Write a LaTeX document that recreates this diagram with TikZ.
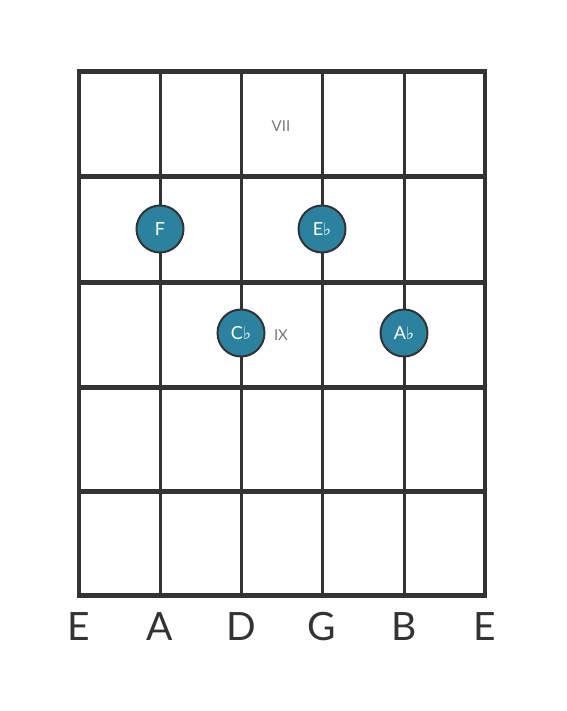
\documentclass[tikz,border=0pt]{standalone}
\usepackage{fontspec}
\setmainfont{Lato}
\newfontfamily\symfont{DejaVu Sans}
\definecolor{ink}{HTML}{333333}
\definecolor{dotc}{HTML}{2A829F}
\definecolor{greytext}{HTML}{777777}
\newcommand{\flt}{{\symfont\fontsize{17}{17}\selectfont ♭}}
\begin{document}
\begin{tikzpicture}[x=1pt,y=-1pt,
  fret/.style={draw=ink,line width=5pt},
  strg/.style={draw=ink,line width=3pt},
  dot/.style={circle,fill=dotc,draw=ink,line width=2pt,minimum size=47pt,inner sep=0pt,text=white,font=\fontsize{18}{18}\selectfont},
  poslabel/.style={text=greytext,font=\fontsize{15}{15}\selectfont},
  sname/.style={text=ink,font=\fontsize{39}{39}\selectfont}]
\useasboundingbox (0,0) rectangle (566,711);
\foreach \x in {160,241,322,404} \draw[strg] (\x,72) -- (\x,595);
\draw[draw=ink,line width=4pt] (79,70) -- (79,597);
\draw[draw=ink,line width=4pt] (485,70) -- (485,597);
\foreach \y in {72,177,282,387,491,595} \draw[fret] (77,\y) -- (487,\y);
\node[dot] (f) at (160,229) {F};
\node[dot] (eb) at (322,229) {E\flt};
\node[dot] (cb) at (241,333) {C\flt};
\node[dot] (ab) at (404,333) {A\flt};
\node[poslabel] (vii) at (281,126) {VII};
\node[poslabel] (ix) at (281,335) {IX};
\node[sname] (s1) at (79,627) {E};
\node[sname] (s2) at (160,627) {A};
\node[sname] (s3) at (241,627) {D};
\node[sname] (s4) at (322,627) {G};
\node[sname] (s5) at (404,627) {B};
\node[sname] (s6) at (485,627) {E};
\end{tikzpicture}
\end{document}
